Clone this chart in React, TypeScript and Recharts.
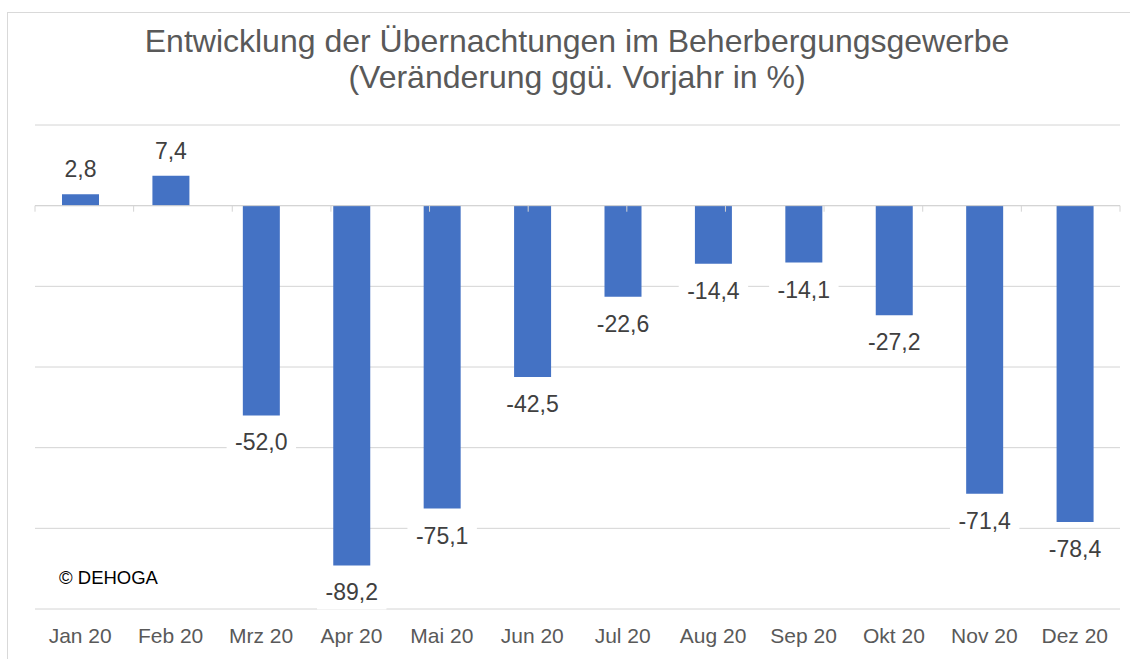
import React from "react";
import { BarChart, Bar, XAxis, YAxis, CartesianGrid, ReferenceLine, LabelList } from "recharts";

const categories = ["Jan 20", "Feb 20", "Mrz 20", "Apr 20", "Mai 20", "Jun 20", "Jul 20", "Aug 20", "Sep 20", "Okt 20", "Nov 20", "Dez 20"];
const values = [2.8, 7.4, -52.0, -89.2, -75.1, -42.5, -22.6, -14.4, -14.1, -27.2, -71.4, -78.4];
const yTicks = [-100, -80, -60, -40, -20, 0, 20];
const boundaries = [0, 1, 2, 3, 4, 5, 6, 7, 8, 9, 10, 11, 12];
const titleLines = ["Entwicklung der Übernachtungen im Beherbergungsgewerbe", "(Veränderung ggü. Vorjahr in %)"];
const sourceText = "© DEHOGA";

const data = categories.map((c, i) => ({ name: c, value: values[i] }));

const FONT = "'Liberation Sans', Arial, sans-serif";
const fmt = (v: number) => v.toFixed(1).replace(".", ",");

const charW: Record<string, number> = { "-": 0.333, ",": 0.278 };
const textWidth = (s: string, size: number) =>
  s.split("").reduce((a, ch) => a + (charW[ch] ?? 0.556), 0) * size;

const ValueLabel = (props: any) => {
  const { x, y, width, height, value } = props;
  const v = Number(value);
  const cx = Number(x) + Number(width) / 2;
  const top = Math.min(Number(y), Number(y) + Number(height));
  const bottom = Math.max(Number(y), Number(y) + Number(height));
  const cy = v >= 0 ? top - 25 : bottom + 27;
  const txt = fmt(v);
  const fs = 23;
  const w = textWidth(txt, fs) + 17;
  const h = 34;
  return (
    <g>
      <rect x={cx - w / 2} y={cy - h / 2} width={w} height={h} fill="#ffffff" />
      <text x={cx} y={cy} textAnchor="middle" dominantBaseline="central" fontSize={fs} fill="#404040" fontFamily={FONT}>
        {txt}
      </text>
    </g>
  );
};

export default function App() {
  return (
    <div style={{ position: "fixed", left: 0, top: 0, width: 1130, height: 659, overflow: "hidden", background: "#fff" }}>
      <div style={{ position: "absolute", left: 7, top: 12, width: 1300, height: 800, border: "1px solid #d9d9d9", boxSizing: "border-box" }} />
      <div style={{ position: "absolute", left: 0, top: 0 }}>
        <BarChart width={1130} height={659} data={data} margin={{ top: 125, right: 10, bottom: 20, left: 35 }}>
          <CartesianGrid horizontal={true} vertical={false} stroke="#d4d4d4" strokeWidth={1} />
          <XAxis
            dataKey="name"
            axisLine={false}
            tickLine={false}
            tickMargin={13}
            height={30}
            interval={0}
            tick={{ fontSize: 21, fill: "#595959", fontFamily: FONT }}
          />
          <XAxis xAxisId="num" type="number" domain={[0, 12]} hide allowDataOverflow />
          <YAxis domain={[-100, 20]} ticks={yTicks} hide allowDataOverflow />
          <ReferenceLine y={0} stroke="#d4d4d4" strokeWidth={1} />
          {boundaries.map((b) => (
            <ReferenceLine
              key={b}
              xAxisId="num"
              segment={[{ x: b, y: 0 }, { x: b, y: -1.5 }]}
              stroke="#d4d4d4"
              strokeWidth={1}
            />
          ))}
          <Bar dataKey="value" fill="#4472C4" barSize={37} isAnimationActive={false}>
            <LabelList dataKey="value" content={ValueLabel} />
          </Bar>
        </BarChart>
      </div>
      <svg width={1130} height={659} style={{ position: "absolute", left: 0, top: 0, pointerEvents: "none" }}>
        <text x={577} y={52} textAnchor="middle" fontSize={32} fill="#595959" fontFamily={FONT}>
          {titleLines[0]}
        </text>
        <text x={577} y={88} textAnchor="middle" fontSize={32} fill="#595959" fontFamily={FONT}>
          {titleLines[1]}
        </text>
        <text x={59} y={584} fontSize={18.5} fill="#000000" fontFamily={FONT}>
          {sourceText}
        </text>
      </svg>
    </div>
  );
}
